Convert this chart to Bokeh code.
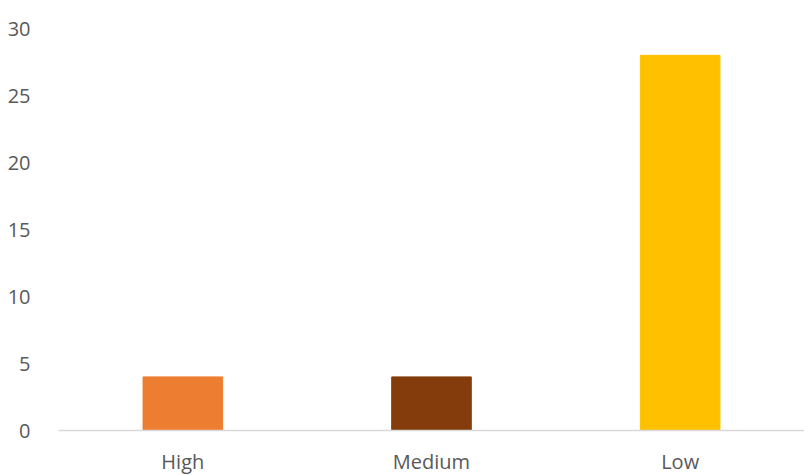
from bokeh.plotting import figure
from bokeh.models import ColumnDataSource, FactorRange, Range1d, FixedTicker
from bokeh.embed import file_html
from bokeh.resources import INLINE

categories = ["High", "Medium", "Low"]
values = [4, 4, 28]
colors = ["#ED7D31", "#843C0C", "#FFC000"]
y_ticks = [0, 5, 10, 15, 20, 25, 30]

src = ColumnDataSource(dict(cat=categories, val=values, color=colors))

p = figure(frame_width=746, frame_height=402, output_backend="svg", toolbar_location=None,
           x_range=FactorRange(*categories, range_padding=0),
           y_range=Range1d(0, 30))
p.min_border_left = 58
p.min_border_right = 0
p.min_border_top = 28
p.min_border_bottom = 45

p.vbar(x="cat", top="val", width=0.32, color="color", source=src)

p.xgrid.visible = False
p.ygrid.visible = False
p.outline_line_color = None

p.yaxis.ticker = FixedTicker(ticks=y_ticks)
p.yaxis.axis_line_color = None
p.yaxis.major_tick_line_color = None
p.yaxis.minor_tick_line_color = None
p.yaxis.major_label_text_font = "Open Sans"
p.yaxis.major_label_text_font_size = "20px"
p.yaxis.major_label_text_color = "#595959"
p.yaxis.major_label_standoff = 22

p.xaxis.axis_line_color = "#D9D9D9"
p.xaxis.axis_line_width = 1.5
p.xaxis.major_tick_line_color = None
p.xaxis.minor_tick_line_color = None
p.xaxis.major_label_text_font = "Open Sans"
p.xaxis.major_label_text_font_size = "20px"
p.xaxis.major_label_text_color = "#595959"
p.xaxis.major_label_standoff = 11

open("out.html", "w").write(file_html(p, INLINE))
